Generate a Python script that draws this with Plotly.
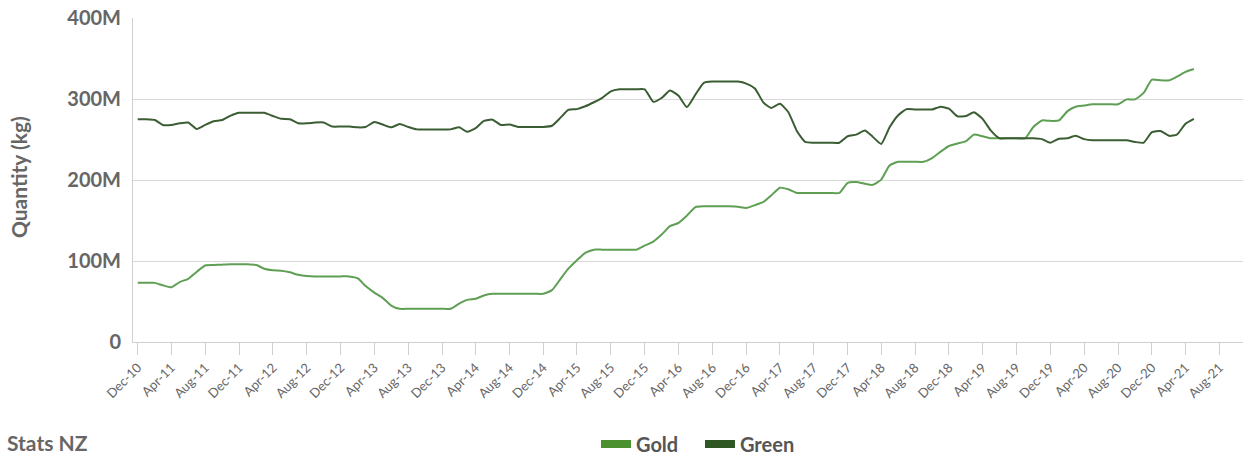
import plotly.graph_objects as go
import pandas as pd

# Monthly series (million kg), Dec-2010 .. May-2021
months = pd.date_range("2010-12-01", periods=126, freq="MS")

gold = [
    73, 73, 73, 70, 67.5, 74, 78, 86.5, 94.5, 95,
    95.5, 96, 96, 96, 95, 90.5, 88.5, 88, 86, 83,
    81.5, 81, 81, 81, 81, 81, 78.5, 69, 61, 54.5,
    45, 41, 41, 41, 41, 41, 41, 41, 47.5, 52,
    53.5, 57.5, 59.5, 59.5, 59.5, 59.5, 59.5, 59.5, 59.5, 64,
    78, 90.5, 101, 110, 114, 114, 114, 114, 114, 114,
    119, 124, 133, 143, 147, 156, 166.5, 167.5, 167.5, 167.5,
    167.5, 167, 165.5, 169, 173, 181, 190.5, 188.5, 184, 184,
    184, 184, 184, 184, 196.5, 197.5, 195.5, 194, 200.5, 218,
    222.5, 222.5, 222.5, 222.5, 227, 235, 242, 245, 248, 256,
    254, 251.5, 251.5, 251.5, 251.5, 251.5, 265.5, 273.5, 273, 273.5,
    285, 290.5, 292, 293.5, 293.5, 293.5, 293.5, 299.5, 299.5, 307.5,
    324, 323, 323, 327.5, 333.5, 337,
]

green = [
    275, 275, 274, 268, 268, 270, 271, 263, 268, 272.5,
    274, 279.5, 283, 283, 283, 283, 279, 275.5, 275, 270,
    270, 271, 271, 266, 266, 266, 265, 265.5, 271.5, 268.5,
    265, 269, 265.5, 262.5, 262.5, 262.5, 262.5, 262.5, 265, 259.5,
    264, 273, 274.5, 268, 268.5, 265.5, 265.5, 265.5, 265.5, 267,
    277, 286.5, 287.5, 291, 296, 301.5, 309.5, 312, 312, 312,
    312, 296.5, 301.5, 310.5, 304, 290, 305.5, 320, 321.5, 321.5,
    321.5, 321.5, 319, 313, 295.5, 289, 294, 284, 260.5, 247,
    246, 246, 246, 246, 254, 256, 261, 253.5, 244.5, 265,
    280, 287.5, 287, 287, 287, 290.5, 288, 278.5, 279, 283.5,
    275.5, 261, 251.5, 251.5, 251.5, 251.5, 251.5, 250.5, 246, 251,
    251.5, 254.5, 250.5, 249, 249, 249, 249, 249, 247, 246,
    259, 260.5, 254.5, 256, 269.5, 275.5,
]

tick_labels = [
    "Dec-10", "Apr-11", "Aug-11", "Dec-11", "Apr-12", "Aug-12", "Dec-12",
    "Apr-13", "Aug-13", "Dec-13", "Apr-14", "Aug-14", "Dec-14", "Apr-15",
    "Aug-15", "Dec-15", "Apr-16", "Aug-16", "Dec-16", "Apr-17", "Aug-17",
    "Dec-17", "Apr-18", "Aug-18", "Dec-18", "Apr-19", "Aug-19", "Dec-19",
    "Apr-20", "Aug-20", "Dec-20", "Apr-21", "Aug-21",
]
tick_dates = pd.date_range("2010-12-01", periods=len(tick_labels), freq="4MS")

y_ticks = [0, 100, 200, 300, 400]
y_labels = ["0", "100M", "200M", "300M", "400M"]

GOLD_LINE, GOLD_KEY = "#5e9f54", "#4c912f"
GREEN_LINE, GREEN_KEY = "#3b5d33", "#2f5724"
FONT = "Lato"
TXT = "#666666"

fig = go.Figure()
fig.add_trace(go.Scatter(x=months, y=gold, mode="lines", name="Gold", showlegend=False,
                         line=dict(color=GOLD_LINE, width=2, shape="spline", smoothing=0.5)))
fig.add_trace(go.Scatter(x=months, y=green, mode="lines", name="Green", showlegend=False,
                         line=dict(color=GREEN_LINE, width=2, shape="spline", smoothing=0.5)))
# legend keys
fig.add_trace(go.Scatter(x=[None], y=[None], mode="lines", name="Gold", legend="legend",
                         line=dict(color=GOLD_KEY, width=8)))
fig.add_trace(go.Scatter(x=[None], y=[None], mode="lines", name="Green", legend="legend2",
                         line=dict(color=GREEN_KEY, width=8)))

legend_font = dict(family=FONT, size=20, color="#555555", weight=700)

fig.update_layout(
    width=1243, height=456,
    margin=dict(l=133, r=0, t=18, b=114, autoexpand=False),
    paper_bgcolor="white", plot_bgcolor="white",
    font=dict(family=FONT, color=TXT),
    showlegend=True,
    legend=dict(orientation="h", x=0.4171, y=-0.315, xanchor="left", yanchor="middle",
                font=legend_font, itemwidth=30, bgcolor="rgba(0,0,0,0)"),
    legend2=dict(orientation="h", x=0.5108, y=-0.315, xanchor="left", yanchor="middle",
                 font=legend_font, itemwidth=30, bgcolor="rgba(0,0,0,0)"),
    xaxis=dict(
        range=["2010-11-14", "2021-10-25"], automargin=False,
        tickvals=tick_dates, ticktext=tick_labels, tickangle=-45,
        ticks="outside", ticklen=12, tickcolor="#d0d0d0", tickwidth=1,
        showgrid=False, showline=True, linecolor="#d0d0d0", linewidth=1,
        tickfont=dict(family=FONT, size=13, color=TXT), zeroline=False,
    ),
    yaxis=dict(
        range=[0, 400], tickvals=y_ticks, ticktext=y_labels, automargin=False,
        showgrid=True, gridcolor="#d9d9d9", gridwidth=1,
        showline=True, linecolor="#d0d0d0", linewidth=1, zeroline=False,
        ticks="", ticklabelstandoff=7,
        tickfont=dict(family=FONT, size=20, color=TXT, weight=700),
    ),
    annotations=[
        dict(text="Quantity (kg)", xref="paper", yref="paper", x=-0.1036, y=0.509,
             xanchor="center", yanchor="middle", textangle=-90, showarrow=False,
             font=dict(family=FONT, size=21, color=TXT, weight=700)),
        dict(text="Stats NZ", xref="paper", yref="paper", x=-0.1153, y=-0.3117,
             xanchor="left", yanchor="middle", showarrow=False,
             font=dict(family=FONT, size=21, color=TXT, weight=700)),
    ],
)

fig.write_html("out.html")
